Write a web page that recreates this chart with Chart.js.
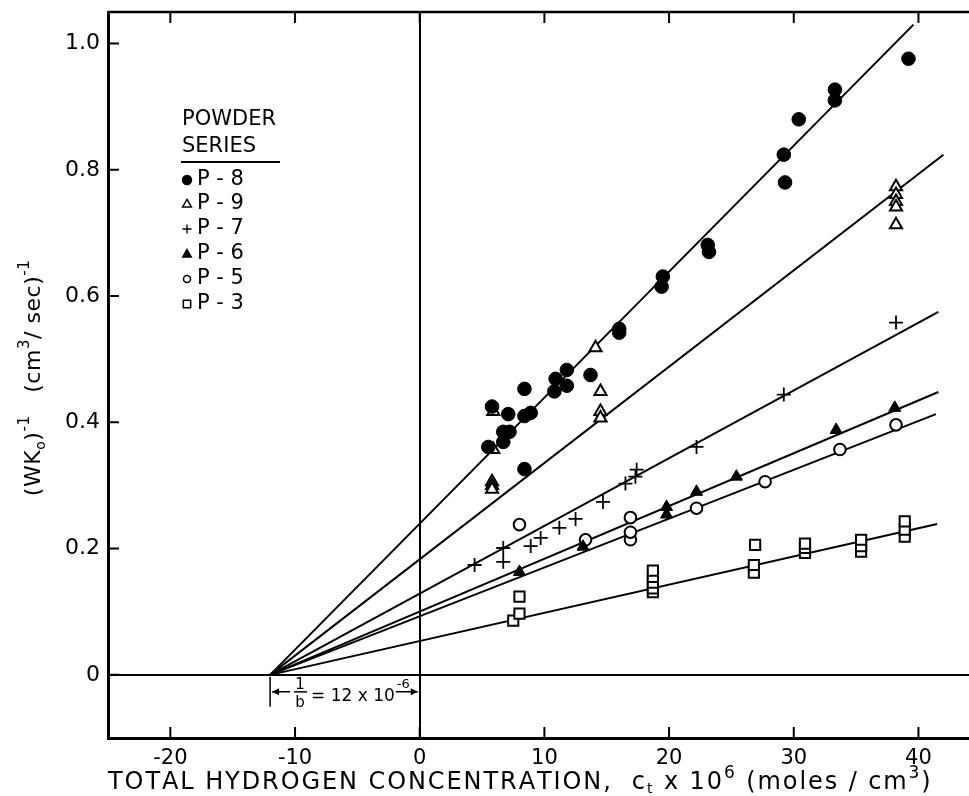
<!DOCTYPE html>
<html>
<head>
<meta charset="utf-8">
<script src="https://cdn.jsdelivr.net/npm/chart.js@4/dist/chart.umd.min.js"></script>
<style>
  html, body { margin: 0; padding: 0; background: #fff; overflow: hidden; }
  canvas { display: block; }
</style>
</head>
<body>
<canvas id="c" width="990" height="796"></canvas>
<script>
// Tick values
const xTickValues = [-20, -10, 0, 10, 20, 30, 40];
const yTickValues = [0, 0.2, 0.4, 0.6, 0.8, 1.0];

// Powder series measurements: total hydrogen concentration (x 10^6) and (WK0)^-1
const p8Conc  = [5.5, 5.8, 6.7, 6.7, 7.1, 7.2, 8.4, 8.4, 8.9, 8.4, 10.8, 10.9, 11.8, 11.8, 13.7, 16.0, 16.0, 19.4, 19.5, 23.1, 23.2, 29.2, 29.3, 30.4, 33.3, 33.3, 39.2];
const p8Value = [0.361, 0.425, 0.385, 0.369, 0.413, 0.385, 0.453, 0.410, 0.415, 0.326, 0.449, 0.469, 0.483, 0.458, 0.475, 0.548, 0.542, 0.615, 0.631, 0.681, 0.670, 0.824, 0.780, 0.880, 0.927, 0.910, 0.976];

const p9Conc  = [5.9, 5.9, 5.8, 5.8, 5.8, 14.1, 14.5, 14.5, 14.5, 38.2, 38.2, 38.2, 38.2, 38.2];
const p9Value = [0.417, 0.357, 0.306, 0.300, 0.294, 0.518, 0.449, 0.417, 0.407, 0.773, 0.761, 0.750, 0.741, 0.713];

const p7Conc  = [4.4, 6.7, 6.7, 8.9, 9.7, 11.2, 12.5, 14.7, 16.5, 17.3, 17.4, 22.2, 29.2, 38.2];
const p7Value = [0.174, 0.179, 0.201, 0.204, 0.217, 0.233, 0.247, 0.274, 0.303, 0.314, 0.325, 0.361, 0.444, 0.558];

const p6Conc  = [8.0, 13.1, 19.8, 19.8, 22.2, 25.4, 33.4, 38.1];
const p6Value = [0.163, 0.203, 0.254, 0.266, 0.290, 0.314, 0.388, 0.423];

const p5Conc  = [8.0, 13.3, 16.9, 16.9, 16.9, 22.2, 27.7, 33.7, 38.2];
const p5Value = [0.238, 0.214, 0.214, 0.226, 0.249, 0.264, 0.306, 0.357, 0.396];

const p3Conc  = [7.5, 8.0, 8.0, 18.7, 18.7, 18.7, 18.7, 18.7, 26.8, 26.8, 26.9, 30.9, 30.9, 30.9, 35.4, 35.4, 35.4, 38.9, 38.9, 38.9];
const p3Value = [0.086, 0.097, 0.124, 0.131, 0.137, 0.146, 0.155, 0.165, 0.162, 0.174, 0.206, 0.193, 0.201, 0.208, 0.195, 0.204, 0.214, 0.219, 0.230, 0.243];

// Fitted straight lines: common origin at -1/b and end point of each line
const fitStart = [-12, 0];
const fitEndConc  = { 'P-8': 39.6, 'P-9': 42.0, 'P-7': 41.6, 'P-6': 41.6, 'P-5': 41.4, 'P-3': 41.5 };
const fitEndValue = { 'P-8': 1.03, 'P-9': 0.824, 'P-7': 0.575, 'P-6': 0.448, 'P-5': 0.413, 'P-3': 0.239 };

const seriesNames = ['P-8', 'P-9', 'P-7', 'P-6', 'P-5', 'P-3'];

function pairs(xs, ys) { return xs.map((x, i) => ({ x: x, y: ys[i] })); }

const markerStyles = {
  'P-8': { pointStyle: 'circle',   radius: 6.8, fill: '#000', border: 1 },
  'P-9': { pointStyle: 'triangle', radius: 7,   fill: '#fff', border: 2 },
  'P-7': { pointStyle: 'cross',    radius: 7,   fill: '#000', border: 1.8 },
  'P-6': { pointStyle: 'triangle', radius: 7,   fill: '#000', border: 1 },
  'P-5': { pointStyle: 'circle',   radius: 5.8, fill: '#fff', border: 2 },
  'P-3': { pointStyle: 'rect',     radius: 7.2, fill: '#fff', border: 2 }
};
const seriesData = {
  'P-8': pairs(p8Conc, p8Value),
  'P-9': pairs(p9Conc, p9Value),
  'P-7': pairs(p7Conc, p7Value),
  'P-6': pairs(p6Conc, p6Value),
  'P-5': pairs(p5Conc, p5Value),
  'P-3': pairs(p3Conc, p3Value)
};

const datasets = [];
seriesNames.forEach(name => {
  const m = markerStyles[name];
  datasets.push({
    label: name,
    data: seriesData[name],
    showLine: false,
    pointStyle: m.pointStyle,
    pointRadius: m.radius,
    pointHoverRadius: m.radius,
    pointBackgroundColor: m.fill,
    pointBorderColor: '#000',
    pointBorderWidth: m.border,
    order: 1
  });
});
seriesNames.forEach(name => {
  datasets.push({
    label: name + ' fit',
    data: [{ x: fitStart[0], y: fitStart[1] }, { x: fitEndConc[name], y: fitEndValue[name] }],
    showLine: true,
    borderColor: '#000',
    borderWidth: 2,
    pointRadius: 0,
    fill: false,
    order: 2
  });
});

const FONT = "'DejaVu Sans', 'Liberation Sans', sans-serif";

function drawMarker(ctx, style, x, y, r) {
  ctx.save();
  ctx.strokeStyle = '#000';
  ctx.fillStyle = style.fill;
  ctx.lineWidth = Math.max(1.3, style.border * 0.75);
  ctx.beginPath();
  if (style.pointStyle === 'circle') {
    ctx.arc(x, y, r, 0, Math.PI * 2);
    ctx.fill(); ctx.stroke();
  } else if (style.pointStyle === 'triangle') {
    ctx.moveTo(x, y - r);
    ctx.lineTo(x + r * 0.95, y + r * 0.65);
    ctx.lineTo(x - r * 0.95, y + r * 0.65);
    ctx.closePath();
    ctx.fill(); ctx.stroke();
  } else if (style.pointStyle === 'cross') {
    ctx.moveTo(x - r, y); ctx.lineTo(x + r, y);
    ctx.moveTo(x, y - r); ctx.lineTo(x, y + r);
    ctx.stroke();
  } else {
    ctx.rect(x - r * 0.8, y - r * 0.8, r * 1.6, r * 1.6);
    ctx.fill(); ctx.stroke();
  }
  ctx.restore();
}

// Draws a run of text pieces (with sub/superscripts) stretched to a given width.
// Pieces: [text, fontSize, baselineShift]
function drawRichText(ctx, pieces, x, y, targetWidth) {
  ctx.save();
  ctx.textBaseline = 'alphabetic';
  ctx.textAlign = 'left';
  let natural = 0, chars = 0;
  pieces.forEach(p => {
    ctx.font = p[1] + 'px ' + FONT;
    natural += ctx.measureText(p[0]).width;
    chars += p[0].length;
  });
  const spacing = Math.max(0, (targetWidth - natural) / Math.max(1, chars - 1));
  let cx = x;
  pieces.forEach(p => {
    ctx.font = p[1] + 'px ' + FONT;
    for (const ch of p[0]) {
      ctx.fillText(ch, cx, y + p[2]);
      cx += ctx.measureText(ch).width + spacing;
    }
  });
  ctx.restore();
}

// Axis titles, frame, inward tick marks, legend block and the 1/b annotation
const decorations = {
  id: 'decorations',
  afterDraw(chart) {
    const ctx = chart.ctx;
    const a = chart.chartArea;
    const xs = chart.scales.x, ys = chart.scales.y;
    ctx.save();
    ctx.strokeStyle = '#000';
    ctx.fillStyle = '#000';

    // frame
    ctx.lineWidth = 2.5;
    ctx.beginPath();
    ctx.moveTo(a.left, a.top); ctx.lineTo(a.right, a.top);
    ctx.moveTo(a.right, a.top); ctx.lineTo(a.right, a.bottom);
    ctx.stroke();

    // inward ticks
    const tl = 11;
    ctx.lineWidth = 2;
    ctx.beginPath();
    xTickValues.forEach(v => {
      const px = xs.getPixelForValue(v);
      ctx.moveTo(px, a.bottom); ctx.lineTo(px, a.bottom - tl);
      ctx.moveTo(px, a.top); ctx.lineTo(px, a.top + tl);
    });
    yTickValues.forEach(v => {
      const py = ys.getPixelForValue(v);
      ctx.moveTo(a.left, py); ctx.lineTo(a.left + tl, py);
      ctx.moveTo(a.right, py); ctx.lineTo(a.right - tl, py);
    });
    ctx.stroke();

    // x axis title
    drawRichText(ctx, [
      ['TOTAL HYDROGEN CONCENTRATION,  ', 24, 0],
      ['c', 24, 0], ['t', 14, 4],
      [' x 10', 24, 0], ['6', 17, -11],
      [' (moles / cm', 24, 0], ['3', 17, -11], [')', 24, 0]
    ], 108, 789, 818);

    // y axis title (rotated)
    ctx.save();
    ctx.translate(40, ys.getPixelForValue(0.47) + 118);
    ctx.rotate(-Math.PI / 2);
    drawRichText(ctx, [
      ['(WK', 22, 0], ['o', 14, 5], [')', 22, 0], ['-1', 15, -11],
      ['   (cm', 22, 0], ['3', 15, -11], ['/ sec)', 22, 0], ['-1', 15, -11]
    ], 0, 0, 236);
    ctx.restore();

    // legend
    ctx.textBaseline = 'middle';
    ctx.textAlign = 'left';
    ctx.font = '21px ' + FONT;
    const lx = 182;
    ctx.fillText('POWDER', lx, 120);
    ctx.fillText('SERIES', lx, 147);
    ctx.lineWidth = 2;
    ctx.beginPath();
    ctx.moveTo(lx - 1, 162); ctx.lineTo(280, 162);
    ctx.stroke();
    const rowY = [180, 204, 229, 254, 279, 304];
    seriesNames.forEach((name, i) => {
      const y = rowY[i];
      const st = markerStyles[name];
      const r = st.pointStyle === 'circle' && st.fill === '#fff' ? 3.5 : (st.pointStyle === 'cross' ? 4.5 : 4.6);
      drawMarker(ctx, st, 187, y, r);
      ctx.fillStyle = '#000';
      ctx.fillText(name.replace('-', ' - '), 197, y);
    });

    // 1/b annotation below the x = -12 origin
    const x0 = xs.getPixelForValue(fitStart[0]);
    const x1 = xs.getPixelForValue(0);
    const yb = ys.getPixelForValue(0);
    const ya = yb + 17;
    ctx.lineWidth = 1.5;
    ctx.beginPath();
    ctx.moveTo(x0, yb + 2); ctx.lineTo(x0, yb + 32);
    ctx.moveTo(x0 + 2, ya); ctx.lineTo(x0 + 20, ya);
    ctx.moveTo(x1 - 24, ya); ctx.lineTo(x1 - 2, ya);
    ctx.stroke();
    ctx.beginPath();
    ctx.moveTo(x0 + 2, ya); ctx.lineTo(x0 + 9, ya - 3.5); ctx.lineTo(x0 + 9, ya + 3.5); ctx.closePath();
    ctx.moveTo(x1 - 2, ya); ctx.lineTo(x1 - 9, ya - 3.5); ctx.lineTo(x1 - 9, ya + 3.5); ctx.closePath();
    ctx.fill();
    ctx.textAlign = 'center';
    ctx.textBaseline = 'alphabetic';
    ctx.font = '15px ' + FONT;
    ctx.fillText('1', x0 + 30, ya - 3);
    ctx.beginPath();
    ctx.moveTo(x0 + 24, ya); ctx.lineTo(x0 + 37, ya);
    ctx.stroke();
    ctx.fillText('b', x0 + 30, ya + 15);
    ctx.textAlign = 'left';
    ctx.font = '17px ' + FONT;
    ctx.fillText('= 12 x 10', x0 + 41, ya + 9);
    const w = ctx.measureText('= 12 x 10').width;
    ctx.font = '13px ' + FONT;
    ctx.fillText('-6', x0 + 43 + w, ya - 4);
    ctx.restore();
  }
};

new Chart(document.getElementById('c'), {
  type: 'scatter',
  data: { datasets: datasets },
  options: {
    responsive: false,
    animation: false,
    devicePixelRatio: 1,
    layout: { padding: { top: 12, right: 4, left: 0, bottom: 0 } },
    plugins: { legend: { display: false }, tooltip: { enabled: false } },
    scales: {
      x: {
        type: 'linear',
        min: -25, max: 45,
        afterBuildTicks: s => { s.ticks = xTickValues.map(v => ({ value: v })); },
        afterFit: s => { s.height = 58; s.paddingLeft = 0; s.paddingRight = 0; },
        ticks: {
          color: '#000', padding: 8,
          font: { family: FONT, size: 21 },
          maxRotation: 0, autoSkip: false,
          callback: v => String(v)
        },
        grid: {
          drawTicks: false,
          color: c => (c.tick && c.tick.value === 0 ? '#000' : 'rgba(0,0,0,0)'),
          lineWidth: 2
        },
        border: { display: true, color: '#000', width: 3 },
        title: { display: false }
      },
      y: {
        type: 'linear',
        min: -0.1, max: 1.05,
        afterBuildTicks: s => { s.ticks = yTickValues.map(v => ({ value: v })); },
        afterFit: s => { s.width = 108; s.paddingTop = 0; s.paddingBottom = 0; },
        ticks: {
          color: '#000', padding: 8,
          font: { family: FONT, size: 22 },
          callback: v => (v === 0 ? '0' : v.toFixed(1))
        },
        grid: {
          drawTicks: false,
          color: c => (c.tick && c.tick.value === 0 ? '#000' : 'rgba(0,0,0,0)'),
          lineWidth: 2
        },
        border: { display: true, color: '#000', width: 3 },
        title: { display: false }
      }
    }
  },
  plugins: [decorations]
});
</script>
</body>
</html>
